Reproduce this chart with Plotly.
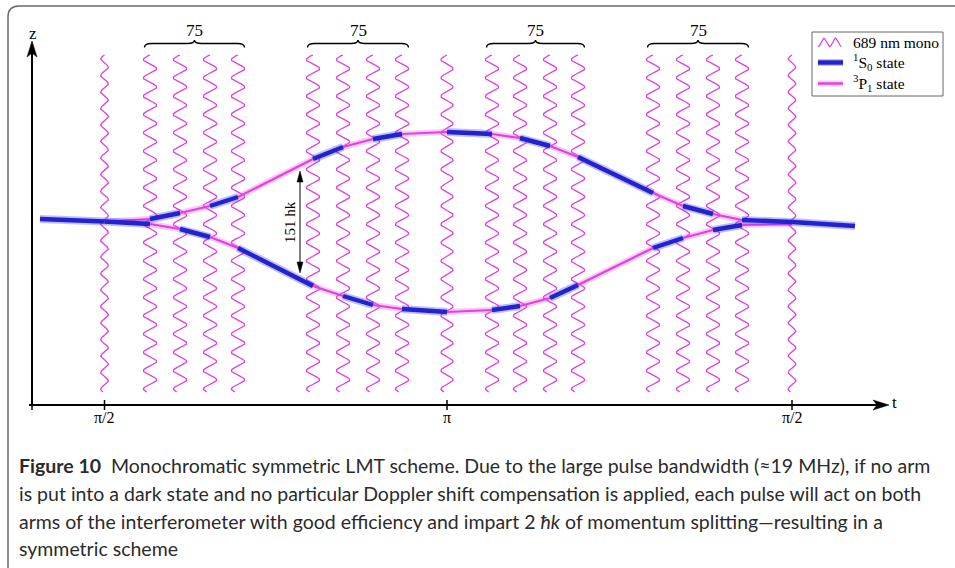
import numpy as np
import plotly.graph_objects as go

# ---------------------------------------------------------------------------
# Data: pulse times and the two interferometer arms (t, z in plot units;
# t = 0 at the z axis, z = 0 on the time axis)
# ---------------------------------------------------------------------------
pulse_t = [72.5, 118, 148, 178, 206, 281, 311, 341, 370, 415,
           460, 488, 518, 546, 621, 651, 681, 710, 760]
pulse_kind = ["pi/2", "lmt", "lmt", "lmt", "lmt", "lmt", "lmt", "lmt", "lmt", "pi",
              "lmt", "lmt", "lmt", "lmt", "lmt", "lmt", "lmt", "lmt", "pi/2"]

upper_z = [183.5, 186, 192, 199, 208, 246, 258, 266, 271, 273,
           271, 267, 259, 248, 212, 199, 191, 185, 183]
lower_z = [183.5, 181, 176, 168, 157, 119, 109, 100, 96, 93,
           95, 99, 107, 120, 157, 167, 175, 180, 181]

# internal state on each arm between consecutive pulses
upper_state = ["3P1", "1S0", "3P1", "1S0", "3P1", "1S0", "3P1", "1S0", "3P1",
               "1S0", "3P1", "1S0", "3P1", "1S0", "3P1", "1S0", "3P1", "1S0"]
lower_state = ["1S0", "3P1", "1S0", "3P1", "1S0", "3P1", "1S0", "3P1", "1S0",
               "3P1", "1S0", "3P1", "1S0", "3P1", "1S0", "3P1", "1S0", "3P1"]

input_t = [8, 72.5]
input_z = [186, 183.5]
output_t = [760, 823]
output_z = [183, 179]

# LMT pulse groups (indices into pulse_t) and their pulse counts
groups = [[1, 2, 3, 4], [5, 6, 7, 8], [10, 11, 12, 13], [14, 15, 16, 17]]
group_count = ["75", "75", "75", "75"]

tick_pulses = [0, 9, 18]
tick_text = ["π/2", "π", "π/2"]

splitting_text = "151 hk"

legend_text = ["689 nm mono", "<sup>1</sup>S<sub>0</sub> state", "<sup>3</sup>P<sub>1</sub> state"]

caption_lines = [
    "<b>Figure 10</b>  Monochromatic symmetric LMT scheme. Due to the large pulse bandwidth (≈19 MHz), if no arm",
    "is put into a dark state and no particular Doppler shift compensation is applied, each pulse will act on both",
    "arms of the interferometer with good efficiency and impart 2 <i>ħk</i> of momentum splitting—resulting in a",
    "symmetric scheme",
]

# ---------------------------------------------------------------------------
# Styling
# ---------------------------------------------------------------------------
W, H = 955, 568
X0, Y0 = 32, 405          # canvas position of the origin
WAVE = "rgb(224,62,226)"
BLUE = "rgb(34,34,206)"
BLUE_HALO = "rgba(70,70,235,0.35)"
MAG = "rgb(226,66,220)"
MAG_HALO = "rgba(235,100,230,0.35)"
SERIF = "Liberation Serif, Times New Roman, serif"
SANS = "Lato, Open Sans, sans-serif"


def tx(px):
    return px - X0


def tz(py):
    return Y0 - py


fig = go.Figure()

# --- laser pulses drawn as vertical wavy lines ------------------------------
wx, wy = [], []
z_lo, z_hi = tz(392), tz(55)
for t, kind in zip(pulse_t, pulse_kind):
    if kind == "pi/2":
        amp, period = 3.8, 16.5
    elif kind == "pi":
        amp, period = 6.0, 18.3
    else:
        amp, period = 6.6, 18.3
    zz = np.linspace(z_lo, z_hi, 700)
    xx = t + amp * np.sin(2 * np.pi * (z_hi - zz) / period + np.pi)
    wx += list(xx) + [None]
    wy += list(zz) + [None]
fig.add_trace(go.Scatter(x=wx, y=wy, mode="lines", line=dict(color=WAVE, width=1.3),
                         hoverinfo="skip", showlegend=False))

# --- arm trajectories, coloured by internal state ---------------------------
segs = {"1S0": ([], []), "3P1": ([], [])}


def add_seg(state, ts, zs):
    segs[state][0].extend(list(ts) + [None])
    segs[state][1].extend(list(zs) + [None])


add_seg("1S0", input_t, input_z)
for i in range(len(pulse_t) - 1):
    add_seg(upper_state[i], pulse_t[i:i + 2], upper_z[i:i + 2])
    add_seg(lower_state[i], pulse_t[i:i + 2], lower_z[i:i + 2])
add_seg("1S0", output_t, output_z)

for state, core, halo, wc, wh in [("3P1", MAG, MAG_HALO, 2.2, 6),
                                   ("1S0", BLUE, BLUE_HALO, 4.4, 8)]:
    xs, ys = segs[state]
    fig.add_trace(go.Scatter(x=xs, y=ys, mode="lines", line=dict(color=halo, width=wh),
                             hoverinfo="skip", showlegend=False))
    fig.add_trace(go.Scatter(x=xs, y=ys, mode="lines", line=dict(color=core, width=wc),
                             hoverinfo="skip", showlegend=False))

shapes = []
annotations = []

# --- coordinate axes ----------------------------------------------------------
shapes.append(dict(type="line", x0=tx(32), x1=tx(32), y0=tz(406), y1=tz(52),
                   line=dict(color="black", width=2)))
shapes.append(dict(type="line", x0=tx(29), x1=tx(880), y0=0, y1=0,
                   line=dict(color="black", width=2)))
shapes.append(dict(type="path",
                   path=f"M {tx(32)},{tz(41)} L {tx(27)},{tz(57)} L {tx(32)},{tz(53)} L {tx(37)},{tz(57)} Z",
                   fillcolor="black", line=dict(color="black", width=0.5)))
shapes.append(dict(type="path",
                   path=f"M {tx(889)},0 L {tx(873)},{tz(400)} L {tx(877)},0 L {tx(873)},{tz(410)} Z",
                   fillcolor="black", line=dict(color="black", width=0.5)))
shapes.append(dict(type="line", x0=0, x1=0, y0=0, y1=tz(410), line=dict(color="black", width=1.5)))
for k, lab in zip(tick_pulses, tick_text):
    t = pulse_t[k]
    shapes.append(dict(type="line", x0=t, x1=t, y0=tz(400), y1=tz(410),
                       line=dict(color="black", width=1.5)))
    annotations.append(dict(x=t, y=tz(417), text=lab, showarrow=False,
                            font=dict(family=SERIF, size=16, color="black"),
                            xanchor="center", yanchor="middle"))
annotations.append(dict(x=tx(33), y=tz(33), text="z", showarrow=False,
                        font=dict(family=SERIF, size=17, color="black")))
annotations.append(dict(x=tx(894), y=tz(402), text="t", showarrow=False,
                        font=dict(family=SERIF, size=17, color="black")))

# --- braces over the LMT pulse groups ----------------------------------------
yb, ym, yt = tz(47.5), tz(43.5), tz(40)
for g, lab in zip(groups, group_count):
    a, b = pulse_t[g[0]] - 5.5, pulse_t[g[-1]] + 6.5
    c = (a + b) / 2
    r = 7
    path = (f"M {a},{yb} Q {a},{ym} {a + r},{ym} L {c - r},{ym} Q {c},{ym} {c},{yt} "
            f"Q {c},{ym} {c + r},{ym} L {b - r},{ym} Q {b},{ym} {b},{yb}")
    shapes.append(dict(type="path", path=path, line=dict(color="black", width=1.4)))
    annotations.append(dict(x=c, y=tz(30), text=lab, showarrow=False,
                            font=dict(family=SERIF, size=17, color="black")))

# --- momentum splitting arrow ----------------------------------------------------
shapes.append(dict(type="line", x0=tx(300), x1=tx(300), y0=tz(180), y1=tz(265),
                   line=dict(color="black", width=1)))
shapes.append(dict(type="path",
                   path=f"M {tx(300)},{tz(171)} L {tx(297)},{tz(182)} L {tx(303)},{tz(182)} Z",
                   fillcolor="black", line=dict(color="black", width=0.5)))
shapes.append(dict(type="path",
                   path=f"M {tx(300)},{tz(273)} L {tx(297)},{tz(262)} L {tx(303)},{tz(262)} Z",
                   fillcolor="black", line=dict(color="black", width=0.5)))
annotations.append(dict(x=tx(290), y=tz(222), text=splitting_text, textangle=-90, showarrow=False,
                        font=dict(family=SERIF, size=15, color="black")))

# --- legend box ----------------------------------------------------------------
shapes.append(dict(type="rect", x0=tx(812), x1=tx(943), y0=tz(32), y1=tz(96), layer="below",
                   line=dict(color="#666666", width=1), fillcolor="white"))
lx = np.linspace(tx(818), tx(841), 120)
ly = tz(42.5) - 4.3 * np.cos(2 * np.pi * (lx - lx[0]) / (lx[-1] - lx[0]) * 2)
fig.add_trace(go.Scatter(x=lx, y=ly, mode="lines", line=dict(color=WAVE, width=1.2),
                         hoverinfo="skip", showlegend=False))
for yy, core, halo, wc, wh in [(62.5, BLUE, BLUE_HALO, 4.4, 7), (83.5, MAG, MAG_HALO, 2.4, 6)]:
    fig.add_trace(go.Scatter(x=[tx(818), tx(843)], y=[tz(yy), tz(yy)], mode="lines",
                             line=dict(color=halo, width=wh), hoverinfo="skip", showlegend=False))
    fig.add_trace(go.Scatter(x=[tx(818), tx(843)], y=[tz(yy), tz(yy)], mode="lines",
                             line=dict(color=core, width=wc), hoverinfo="skip", showlegend=False))
for yy, txt in zip([42, 62, 83], legend_text):
    annotations.append(dict(x=tx(851), y=tz(yy), text=txt, showarrow=False, xanchor="left",
                            yanchor="middle", font=dict(family=SERIF, size=15.5, color="black")))

# --- frame and caption -----------------------------------------------------------
shapes.append(dict(type="path",
                   path=f"M {tx(8)},{tz(570)} L {tx(8)},{tz(17)} Q {tx(8)},{tz(6)} {tx(19)},{tz(6)} L {tx(960)},{tz(6)}",
                   line=dict(color="#6a6a6a", width=1.5)))
for yy, line in zip([465, 493, 521, 548], caption_lines):
    annotations.append(dict(x=17 / W, y=1 - yy / H, xref="paper", yref="paper", text=line,
                            showarrow=False, xanchor="left", yanchor="middle",
                            font=dict(family=SANS, size=19.5, color="#2b2b2b")))

fig.update_layout(
    width=W, height=H, margin=dict(l=0, r=0, t=0, b=0),
    font=dict(family=SERIF, size=16, color="black"),
    paper_bgcolor="white", plot_bgcolor="white",
    xaxis=dict(range=[-X0, W - X0], visible=False, fixedrange=True),
    yaxis=dict(range=[Y0 - H, Y0], visible=False, fixedrange=True),
    shapes=shapes, annotations=annotations, showlegend=False,
)

fig.write_html("out.html")
